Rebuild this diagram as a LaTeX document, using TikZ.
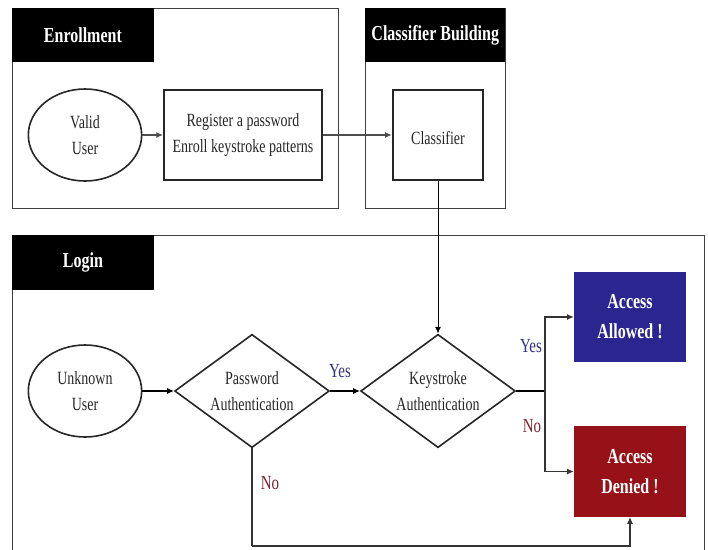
\documentclass[tikz,border=0pt]{standalone}
\usepackage{fontspec}
\setmainfont[FakeStretch=0.75]{Liberation Serif}
\usetikzlibrary{positioning,arrows.meta,shapes.geometric}
\definecolor{allowblue}{RGB}{43,38,143}
\definecolor{denyred}{RGB}{150,18,24}
\definecolor{yesblue}{RGB}{50,50,130}
\definecolor{nored}{RGB}{125,35,50}
\tikzset{
    panel/.style = {
        draw=black!75,
        shape=rectangle,
        anchor=north west,
        line width=0.9pt
    },
    header/.style = {
        fill=black,
        text=white,
        shape=rectangle,
        anchor=north west,
        inner sep=0pt,
        font=\bfseries\fontsize{16}{18}\selectfont
    },
    block/.style = {
        draw=black!85,
        shape=rectangle,
        minimum height=68pt,
        inner sep=0pt,
        align=center,
        line width=1.4pt,
        text=black!85,
        execute at begin node={\rule{0pt}{14pt}},
        font=\fontsize{14}{20}\selectfont
    },
    user/.style = {
        draw=black!85,
        shape=ellipse,
        minimum width=85pt,
        minimum height=69pt,
        inner sep=0pt,
        align=center,
        line width=1.2pt,
        text=black!85,
        execute at begin node={\rule{0pt}{14pt}},
        font=\fontsize{14}{20}\selectfont
    },
    decision/.style = {
        draw=black!85,
        shape=diamond,
        shape aspect=1.37,
        minimum width=116pt,
        minimum height=85pt,
        inner sep=0pt,
        align=center,
        line width=1.2pt,
        text=black!85,
        execute at begin node={\rule{0pt}{14pt}},
        font=\fontsize{14}{20}\selectfont
    },
    result/.style = {
        shape=rectangle,
        minimum width=84pt,
        minimum height=68pt,
        inner sep=0pt,
        text=white,
        align=center,
        execute at begin node={\rule{0pt}{14pt}},
        font=\bfseries\fontsize{16}{22.5}\selectfont
    },
    branch/.style = {
        font=\fontsize{15}{17}\selectfont
    },
    >={Latex[length=5pt,width=4.5pt]},
}
\begin{document}
\begin{tikzpicture}[x=0.75pt,y=-0.75pt]
    \useasboundingbox (0,0) rectangle (708,550);
    % panels
    \node[panel, minimum width=244.5pt, minimum height=150pt] (enroll) at (12,8) {};
    \node[panel, minimum width=105pt, minimum height=150pt] (build) at (365,8) {};
    \node[panel, minimum width=519pt, minimum height=240pt] (login) at (12,235) {};
    \node[header, minimum width=106pt, minimum height=40.5pt] (enrollhead) at (12,8) {Enrollment};
    \node[header, minimum width=105pt, minimum height=40.5pt] (buildhead) at (365,8) {Classifier Building};
    \node[header, minimum width=106pt, minimum height=41pt] (loginhead) at (12,235) {Login};

    % enrollment and classifier
    \node[user] (valid) at (85,135) {Valid\\User};
    \node[block, minimum width=118.5pt] (register) at (243,135) {Register a password\\Enroll keystroke patterns};
    \node[block, minimum width=68pt] (classifier) at (438,135) {Classifier};

    % login
    \node[user] (unknown) at (85,391) {Unknown\\User};
    \node[decision] (password) at (252,391) {Password\\Authentication};
    \node[decision] (keystroke) at (438,391) {Keystroke\\Authentication};
    \node[result, fill=allowblue] (allowed) at (630,317) {Access\\Allowed !};
    \node[result, fill=denyred] (denied) at (630,471.5) {Access\\Denied !};

    \coordinate (fork) at (545,391);
    \coordinate (bottom) at (252,546);

    \path[draw, ->, line width=1.1pt, black!70] (valid) -- (register);
    \path[draw, ->, line width=0.8pt, black!70] (register) -- (classifier);
    \path[draw, ->, line width=0.7pt] (classifier) -- (keystroke);
    \path[draw, ->, line width=0.8pt] (unknown) -- (password);
    \path[draw, ->, line width=0.8pt] (password) -- (keystroke);
    \path[draw, -, line width=0.9pt] (keystroke.east) -- (fork);
    \path[draw, ->, line width=0.8pt, black!80] (fork) |- (allowed.west);
    \path[draw, ->, line width=0.8pt, black!80] (fork) |- (denied.west);
    \path[draw, -, line width=0.8pt, black!80] (password.south) -- (bottom);
    \path[draw, ->, line width=0.8pt, black!80] (bottom) -| (denied.south);

    % branch labels
    \node[branch, text=yesblue] (yesa) at (340,371) {Yes};
    \node[branch, text=yesblue] (yesb) at (531,346) {Yes};
    \node[branch, text=nored] (noa) at (270,483) {No};
    \node[branch, text=nored] (nob) at (532,426) {No};
\end{tikzpicture}
\end{document}
